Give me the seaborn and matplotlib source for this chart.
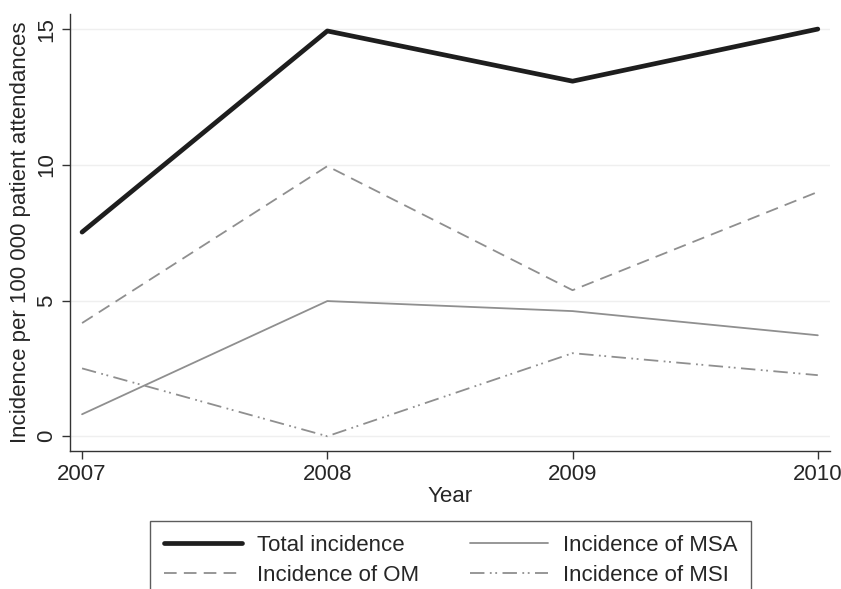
import matplotlib
matplotlib.use("Agg")
import matplotlib.pyplot as plt
import seaborn as sns

years = [2007, 2008, 2009, 2010]
total = [7.52, 14.93, 13.08, 15.0]
om = [4.17, 9.95, 5.38, 9.0]
msa = [0.81, 4.98, 4.61, 3.72]
msi = [2.5, 0.0, 3.06, 2.25]

sns.set_style("white")
plt.rcParams['font.family'] = ['Liberation Sans', 'DejaVu Sans']

fig = plt.figure(figsize=(8.41, 5.89), dpi=100)
ax = fig.add_axes([0.083, 0.234, 0.904, 0.742])

gray = "#8f8f8f"
sns.lineplot(x=years, y=total, ax=ax, color="#1e1e1e", linewidth=3.4, label="Total incidence")
sns.lineplot(x=years, y=msa, ax=ax, color=gray, linewidth=1.3, label="Incidence of MSA")
sns.lineplot(x=years, y=om, ax=ax, color=gray, linewidth=1.3, label="Incidence of OM")
sns.lineplot(x=years, y=msi, ax=ax, color=gray, linewidth=1.3, label="Incidence of MSI")
lines = ax.get_lines()
lines[2].set_dashes((7, 4))
lines[3].set_dashes((8, 3, 1, 2, 1, 3))

for v in [0, 5, 10, 15]:
    ax.axhline(v, color="#efefef", linewidth=1, zorder=0)

ax.set_xlim(2006.95, 2010.05)
ax.set_ylim(-0.55, 15.55)
ax.set_xticks(years)
ax.set_xticklabels([str(y) for y in years])
ax.set_yticks([0, 5, 10, 15])
ax.set_yticklabels(["0", "5", "10", "15"], rotation=90, va="center")
ax.tick_params(axis="both", labelsize=16, length=6, width=1, color="#333333", direction="out",
               left=True, bottom=True, pad=3)
ax.set_xlabel("Year", fontsize=16, labelpad=1)
ax.set_ylabel("Incidence per 100 000 patient attendances", fontsize=16, labelpad=4)
sns.despine(ax=ax)
for s in ["left", "bottom"]:
    ax.spines[s].set_color("#333333")
    ax.spines[s].set_linewidth(1)

handles, labels = ax.get_legend_handles_labels()
ax.get_legend().remove()
leg = fig.legend([handles[i] for i in [0, 2, 1, 3]], [labels[i] for i in [0, 2, 1, 3]],
                 ncol=2, loc="upper center", bbox_to_anchor=(0.536, 0.1155),
                 borderaxespad=0, fontsize=16, frameon=True, fancybox=False,
                 edgecolor="#333333", handlelength=3.5, handletextpad=0.68,
                 columnspacing=2.3, borderpad=0.62, labelspacing=0.4)
leg.get_frame().set_linewidth(1)

fig.savefig("out.png", dpi=100)
